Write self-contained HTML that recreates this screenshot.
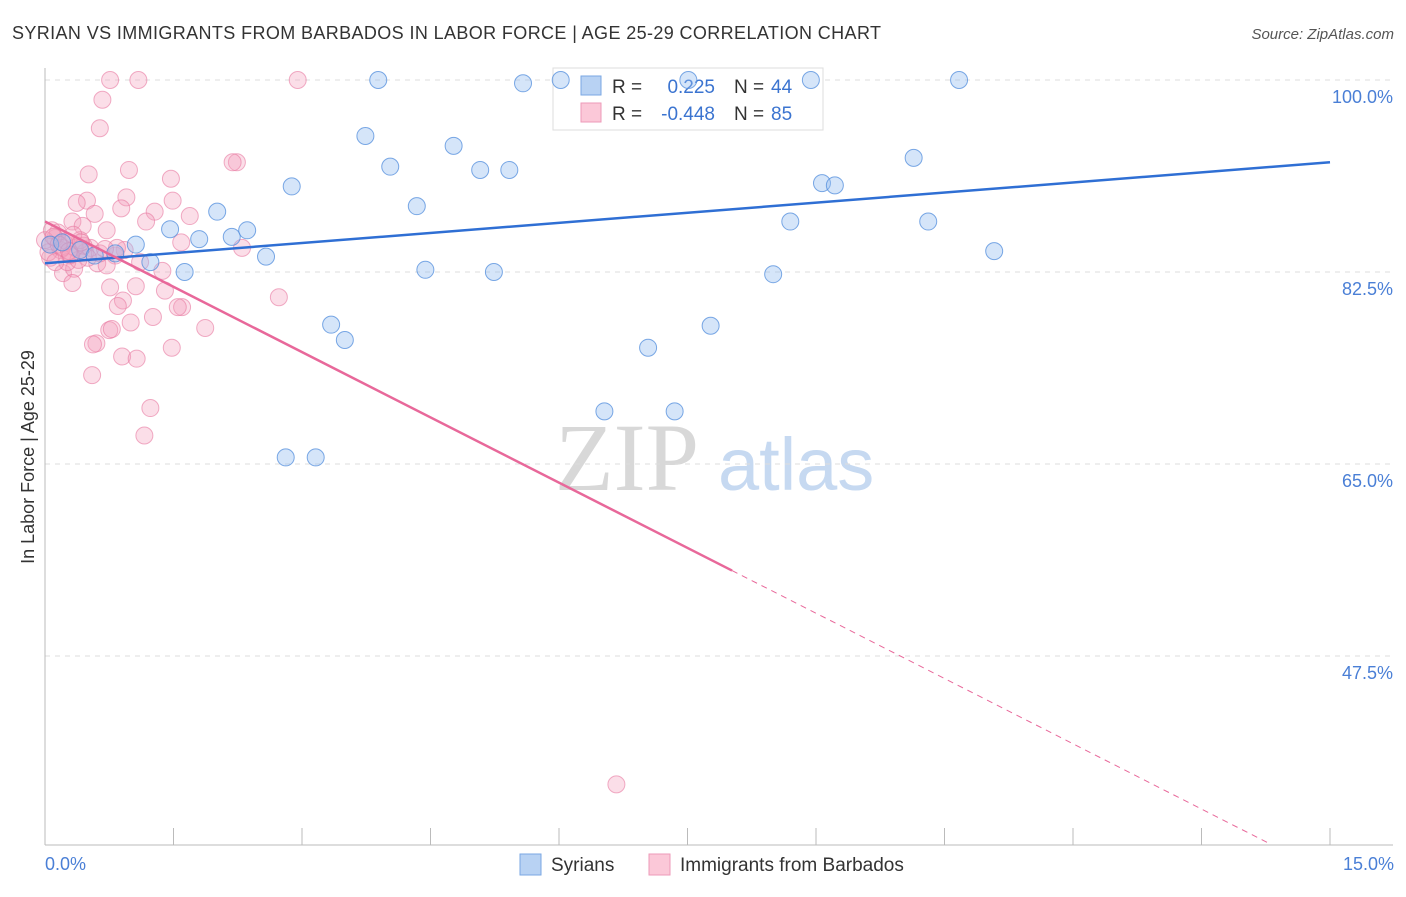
<!DOCTYPE html>
<html><head><meta charset="utf-8">
<style>
body{margin:0;background:#fff;font-family:"Liberation Sans",sans-serif;}
svg text{font-family:"Liberation Sans",sans-serif;}
</style></head>
<body>
<svg id="chart" width="1406" height="892" xmlns="http://www.w3.org/2000/svg">
<text x="12" y="39" font-size="18" fill="#333" textLength="869">SYRIAN VS IMMIGRANTS FROM BARBADOS IN LABOR FORCE | AGE 25-29 CORRELATION CHART</text>
<text x="1394" y="39" font-size="15" fill="#555" text-anchor="end" font-style="italic">Source: ZipAtlas.com</text>
<text x="555" y="490" font-size="96" fill="#d8d8d8" style="font-family:'Liberation Serif',serif">ZIP</text>
<text x="718" y="490" font-size="74" fill="#c6d9f1">atlas</text>
<g id="grid"></g>
<g id="axes"></g>
<g>
<rect x="553" y="68" width="270" height="62" fill="#fff" stroke="#ddd"/>
<rect x="581" y="76" width="20" height="19" fill="#b8d2f3" stroke="#7aa7e3"/>
<rect x="581" y="103" width="20" height="19" fill="#fbc8d8" stroke="#ee9ab8"/>
<text x="612" y="93" font-size="19" fill="#333">R =</text>
<text x="715" y="93" font-size="19" fill="#3b74d0" text-anchor="end">0.225</text>
<text x="734" y="93" font-size="19" fill="#333">N =</text>
<text x="771" y="93" font-size="19" fill="#3b74d0">44</text>
<text x="612" y="120" font-size="19" fill="#333">R =</text>
<text x="715" y="120" font-size="19" fill="#3b74d0" text-anchor="end">-0.448</text>
<text x="734" y="120" font-size="19" fill="#333">N =</text>
<text x="771" y="120" font-size="19" fill="#3b74d0">85</text>
</g>
<g id="pts"></g>
<g id="lines"></g>
<text transform="translate(34,457) rotate(-90)" font-size="18" fill="#333" text-anchor="middle">In Labor Force | Age 25-29</text>
<text x="45" y="870" font-size="18" fill="#4a7fd6">0.0%</text>
<text x="1394" y="870" font-size="18" fill="#4a7fd6" text-anchor="end">15.0%</text>
<g>
<rect x="520" y="854" width="21" height="21" fill="#b8d2f3" stroke="#7aa7e3"/>
<text x="551" y="871" font-size="19" fill="#333">Syrians</text>
<rect x="649" y="854" width="21" height="21" fill="#fbc8d8" stroke="#ee9ab8"/>
<text x="680" y="871" font-size="19" fill="#333">Immigrants from Barbados</text>
</g>
</svg>
<script>
const yTicks=[100,82.5,65,47.5];
const yTickLabels=["100.0%","82.5%","65.0%","47.5%"];
const xTicks=[0,1.5,3,4.5,6,7.5,9,10.5,12,13.5,15];
const blueX=[3.89,5.58,6.02,7.51,8.94,10.67,3.74,4.77,4.03,5.08,5.42,10.14,2.88,9.07,9.22,4.34,2.01,1.46,1.80,2.18,2.36,1.06,8.70,10.31,11.08,2.58,1.23,1.63,4.44,5.24,8.50,3.34,3.50,7.77,7.04,6.53,7.35,2.81,3.16,0.06,0.2,0.41,0.82,0.58];
const blueY=[100,99.7,100,100,100,100,94.9,94.0,92.1,91.8,91.8,92.9,90.3,90.6,90.4,88.5,88.0,86.4,85.5,85.7,86.3,85.0,87.1,87.1,84.4,83.9,83.4,82.5,82.7,82.5,82.3,77.7,76.3,77.6,75.6,69.8,69.8,65.6,65.6,85.0,85.2,84.5,84.2,84.0];
const pinkX=[0.76,1.09,2.95,0.67,0.64,2.24,2.19,0.51,0.98,1.47,0.95,0.49,0.37,1.49,1.28,0.89,0.58,1.69,1.18,0.32,0.72,0.44,1.59,2.30,0.93,0.82,0.61,1.11,1.37,0.72,0.21,0.34,0.32,0.76,1.06,1.40,2.73,1.60,0.91,0.85,1.26,1.00,1.87,0.75,0.78,0.60,0.56,1.48,0.90,1.07,0.55,1.23,1.16,6.67,0.06,0.12,0.18,0.23,0.29,0.35,0.47,0.06,0.15,0.26,0.53,0.04,0.2,0.41,0.64,0.12,0,0.5,0.33,0.84,0.08,0.39,1.55,0.25,0.45,0.1,0.3,0.7,0.16,0.28,0.42];
const pinkY=[100,100,100,98.2,95.6,92.5,92.5,91.4,91.8,91.0,89.3,89.0,88.8,89.0,88.0,88.3,87.8,87.6,87.1,87.1,86.3,86.7,85.2,84.7,84.5,84.0,83.3,83.4,82.6,83.1,82.4,82.8,81.5,81.1,81.2,80.8,80.2,79.3,79.9,79.4,78.4,77.9,77.4,77.2,77.3,76.0,75.9,75.6,74.8,74.6,73.1,70.1,67.6,35.8,85.0,85.6,84.5,85.1,84.0,84.7,84.3,83.8,86.1,83.4,84.7,84.3,84.7,85.4,84.2,83.4,85.4,83.8,85.9,84.7,86.3,83.6,79.3,85.3,84.9,85.7,84.1,84.6,85.0,84.4,85.2];
const blueLine=[83.3,92.5];
const pinkLine=[87.1,27.6];
const pinkSolidEnd=8.02;

const X=v=>45+v/15*1285;
const Y=v=>80+(100-v)/17.5*192;
const NS="http://www.w3.org/2000/svg";
function mk(tag,attrs,parent){const e=document.createElementNS(NS,tag);for(const k in attrs)e.setAttribute(k,attrs[k]);parent.appendChild(e);return e;}
const grid=document.getElementById('grid'),axes=document.getElementById('axes'),pts=document.getElementById('pts'),lines=document.getElementById('lines');
yTicks.forEach((t,i)=>{
 const l=mk('line',{x1:45,x2:1393,y1:Y(t),y2:Y(t),stroke:'#ddd','stroke-dasharray':'5,5'},grid);
 
 
 const tx=mk('text',{x:1393,y:Y(t)+23,'font-size':18,fill:'#4a7fd6','text-anchor':'end'},grid);
 tx.textContent=yTickLabels[i];
 
 
});
const ya=mk('line',{x1:45,x2:45,y1:68,y2:845,stroke:'#bbb'},axes);


const xa=mk('line',{x1:45,x2:1393,y1:845,y2:845,stroke:'#bbb'},axes);


xTicks.forEach(t=>{
 const l=mk('line',{x1:X(t),x2:X(t),y1:828,y2:845,stroke:'#bbb'},axes);
 
 
});
pinkX.forEach((x,i)=>{
 const c=mk('circle',{cx:X(x),cy:Y(pinkY[i]),r:8.5,fill:'rgba(244,160,190,0.35)',stroke:'rgba(232,120,160,0.6)','stroke-width':1},pts);
 
 
});
blueX.forEach((x,i)=>{
 const c=mk('circle',{cx:X(x),cy:Y(blueY[i]),r:8.5,fill:'rgba(150,190,240,0.4)',stroke:'rgba(80,140,220,0.75)','stroke-width':1},pts);
 
 
});
const bl=mk('line',{x1:X(0),y1:Y(blueLine[0]),x2:X(15),y2:Y(blueLine[1]),stroke:'#2f6fd4','stroke-width':2.5},lines);


const py=x=>pinkLine[0]+(pinkLine[1]-pinkLine[0])*x/15;
const pl=mk('line',{x1:X(0),y1:Y(pinkLine[0]),x2:X(pinkSolidEnd),y2:Y(py(pinkSolidEnd)),stroke:'#e8689a','stroke-width':2.5},lines);


const xEnd=(30.5-pinkLine[0])/(pinkLine[1]-pinkLine[0])*15;
const pd=mk('line',{x1:X(pinkSolidEnd),y1:Y(py(pinkSolidEnd)),x2:X(xEnd),y2:Y(py(xEnd)),stroke:'#e8689a','stroke-width':1,'stroke-dasharray':'6,5'},lines);


</script>
</body></html>
